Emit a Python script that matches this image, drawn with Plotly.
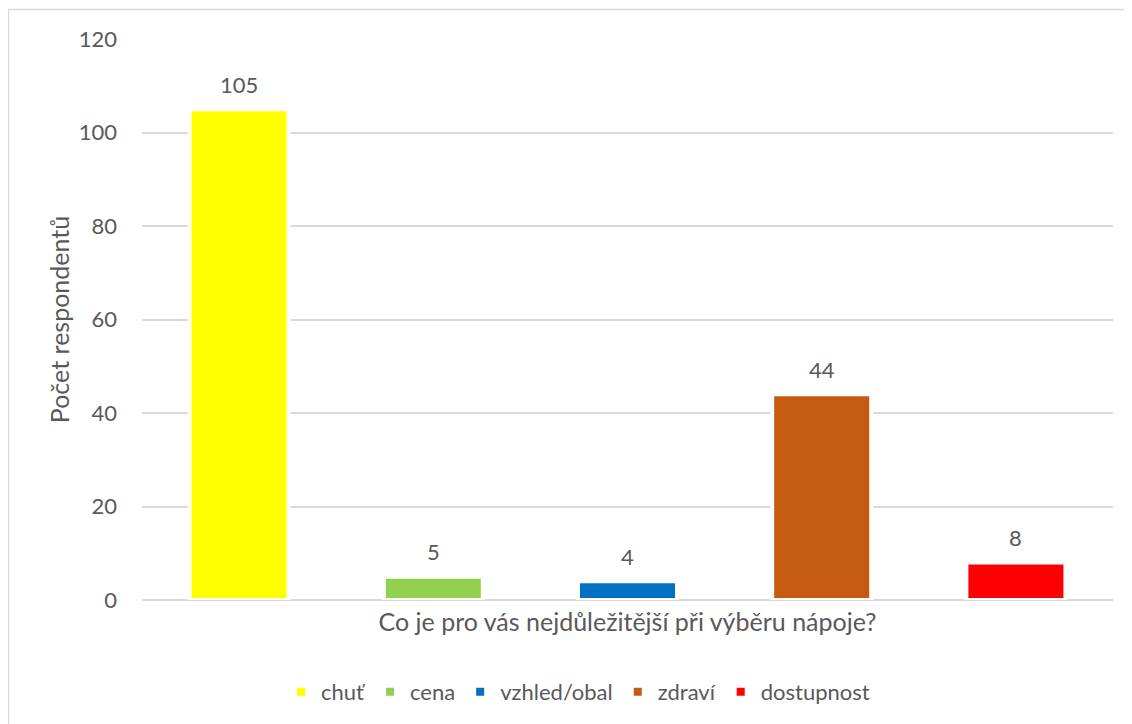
import plotly.graph_objects as go

categories = ["chuť", "cena", "vzhled/obal", "zdraví", "dostupnost"]
values = [105, 5, 4, 44, 8]
colors = ["#FFFF00", "#92D050", "#0070C0", "#C55A11", "#FF0000"]
y_ticks = [0, 20, 40, 60, 80, 100, 120]

FONT = "Lato"
TXT = "#595959"

W, H = 1132, 724
OFF = 8  # page offset from body margin
# plot area in page pixels: x 142..1113, y 39..600
ml = 142 - OFF
mt = 39 - OFF
mr = W - (1113 - OFF)
mb = H - (600 - OFF)
pw, ph = W - ml - mr, H - mt - mb


def px_x(p):  # page px -> paper x
    return (p - OFF - ml) / pw


def px_y(p):  # page px -> paper y
    return (H - mb - (p - OFF)) / ph


fig = go.Figure()
for cat, val, col in zip(categories, values, colors):
    fig.add_trace(go.Bar(
        x=[cat], y=[val], name=cat,
        marker=dict(color=col, line=dict(color="white", width=4)),
        hoverinfo="skip",
    ))
    fig.add_annotation(x=cat, y=val, text=str(val), showarrow=False,
                       yshift=25, yanchor="middle",
                       font=dict(family=FONT, size=22, color=TXT))

fig.add_shape(type="rect", xref="paper", yref="paper",
              x0=px_x(8.5), x1=px_x(1150), y0=px_y(9.5), y1=px_y(750),
              line=dict(color="#D9D9D9", width=1.5), fillcolor="rgba(0,0,0,0)",
              layer="below")

fig.update_layout(
    width=W, height=H,
    margin=dict(l=ml, r=mr, t=mt, b=mb),
    paper_bgcolor="white", plot_bgcolor="white",
    barmode="overlay", bargap=0.49,
    font=dict(family=FONT, size=22, color=TXT),
    showlegend=True,
    legend=dict(orientation="h", x=px_x(578), xanchor="center", y=px_y(692), yanchor="middle",
                font=dict(family=FONT, size=22, color=TXT), itemwidth=30,
                traceorder="normal"),
    xaxis=dict(showticklabels=False, showgrid=False, zeroline=False, showline=False,
               title=dict(text="Co je pro vás nejdůležitější při výběru nápoje?",
                          font=dict(family=FONT, size=25, color=TXT), standoff=13)),
    yaxis=dict(range=[0, 120], tickvals=y_ticks, showgrid=True, gridcolor="#D9D9D9",
               gridwidth=1.5, zeroline=True, zerolinecolor="#D9D9D9", zerolinewidth=1.5,
               showline=False, ticks="", ticklabelstandoff=24,
               tickfont=dict(family=FONT, size=22, color=TXT),
               title=dict(text="Počet respondentů", font=dict(family=FONT, size=25, color=TXT),
                          standoff=1)),
)

fig.write_html("out.html")
